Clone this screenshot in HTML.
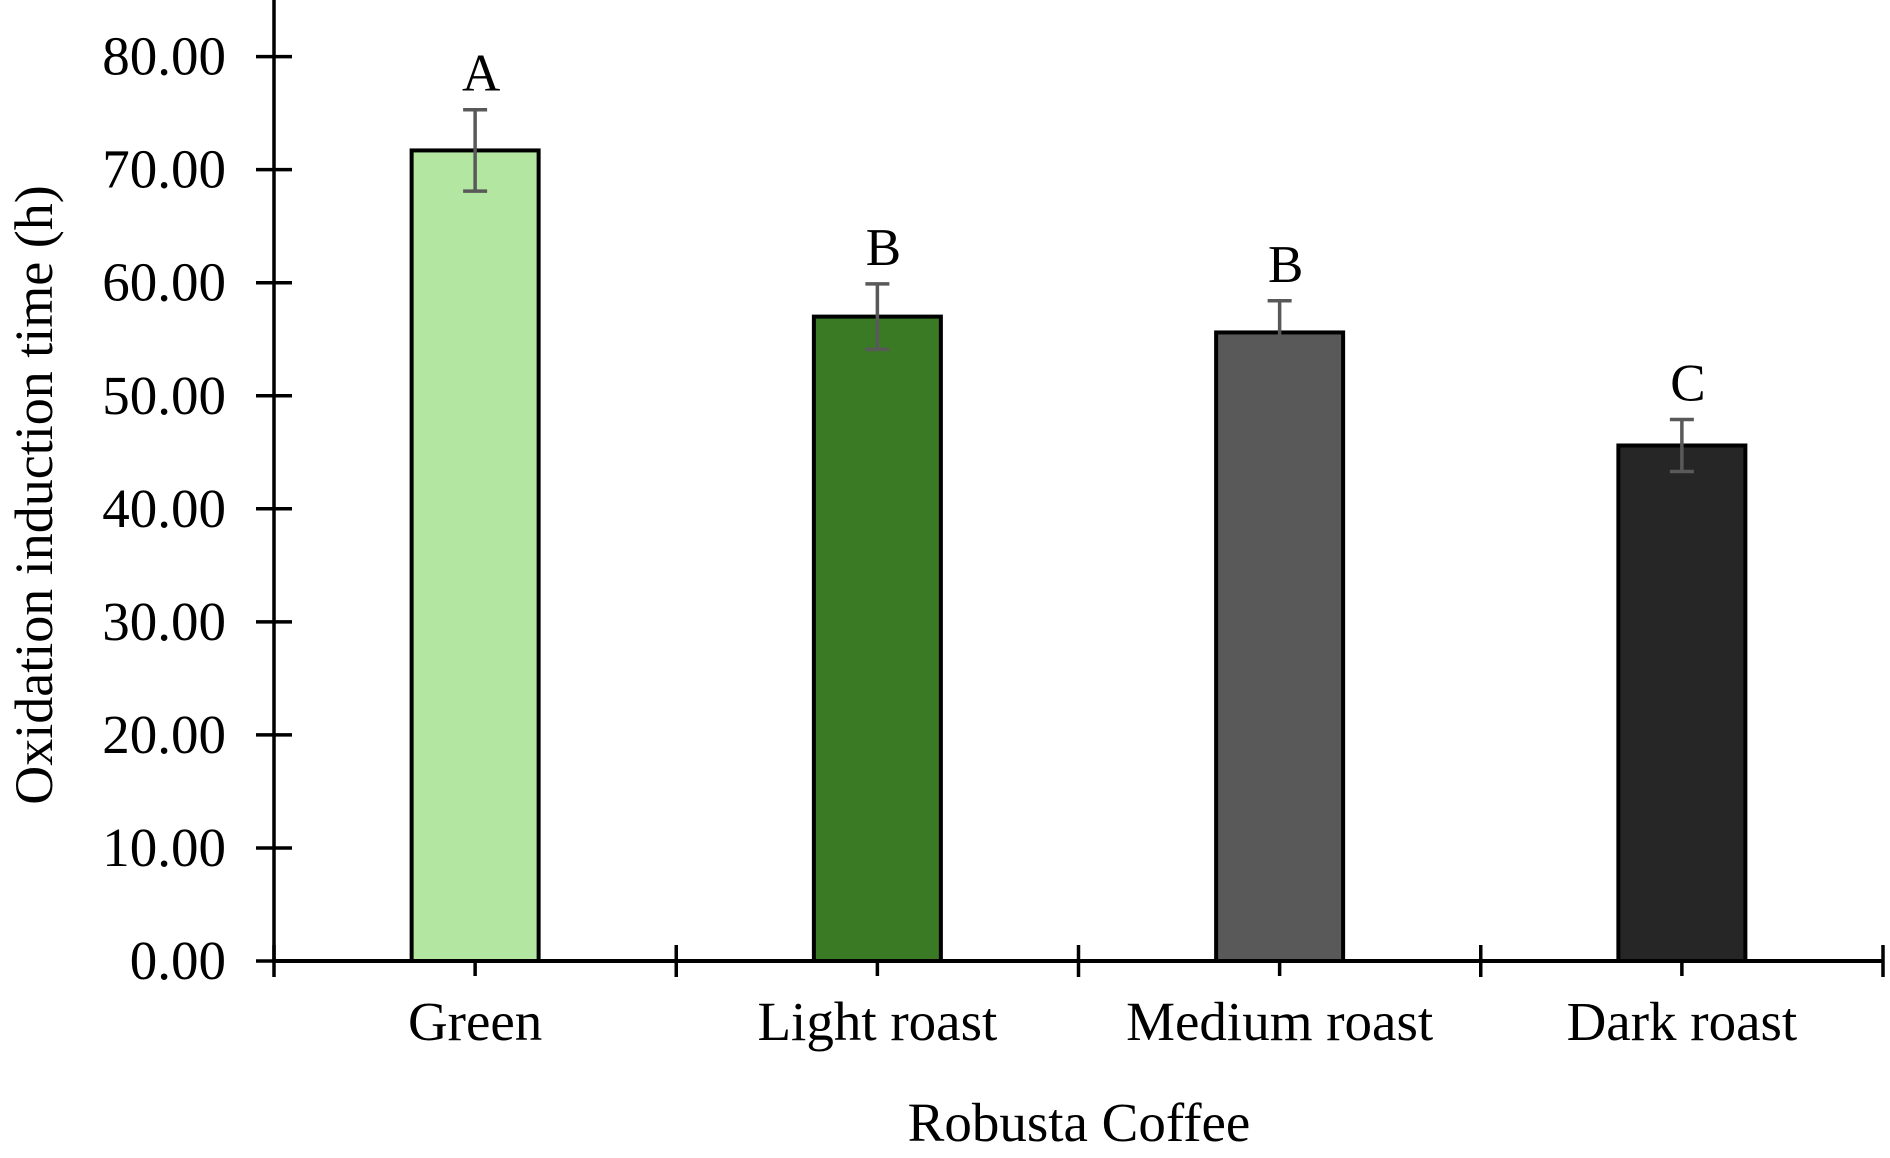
<!DOCTYPE html>
<html><head><meta charset="utf-8"><style>
html,body{margin:0;padding:0;background:#fff;}
svg{display:block;font-family:"Liberation Serif",serif;}
</style></head><body>
<svg id="chart" width="1890" height="1158" viewBox="0 0 1890 1158">
<g id="axes"></g>
<g id="bars"></g>
<text x="1079" y="1141" font-size="55" text-anchor="middle">Robusta Coffee</text>
<text transform="translate(52,495) rotate(-90)" font-size="54" text-anchor="middle">Oxidation induction time (h)</text>
</svg>
<script>
const categories = ["Green","Light roast","Medium roast","Dark roast"];
const values = [71.7, 57.0, 55.6, 45.6];
const errors = [3.6, 2.9, 2.8, 2.3];
const letters = ["A","B","B","C"];
const colors = ["#b3e6a1","#3b7a25","#595959","#262626"];
const yTicks = [0,10,20,30,40,50,60,70,80];

const NS="http://www.w3.org/2000/svg";
const x0=274, x1=1883, y0=961, pxPer10=113.05;
const catW=(x1-x0)/categories.length, barW=127;
function yScale(v){return y0 - v*pxPer10/10;}
function xCenter(i){return x0+catW*(i+0.5);}
function mk(tag,attrs,parent){const e=document.createElementNS(NS,tag);for(const k in attrs)e.setAttribute(k,attrs[k]);parent.appendChild(e);return e;}
const axes=document.getElementById('axes'), bars=document.getElementById('bars');

categories.forEach((c,i)=>{
  const cx=xCenter(i), top=yScale(values[i]);
  const r=mk('rect',{x:cx-barW/2,y:top,width:barW,height:y0-top,fill:colors[i],stroke:'#000','stroke-width':4},bars);
  
  
  const eg=mk('g',{stroke:'#595959','stroke-width':3.5},bars);
  
  
  const hi=yScale(values[i]+errors[i]), lo=yScale(values[i]-errors[i]);
  mk('line',{x1:cx,x2:cx,y1:hi,y2:lo},eg);
  mk('line',{x1:cx-12,x2:cx+12,y1:hi,y2:hi},eg);
  mk('line',{x1:cx-12,x2:cx+12,y1:lo,y2:lo},eg);
  const t=mk('text',{x:cx+6,y:hi-19,'font-size':53,'text-anchor':'middle'},bars);
  t.textContent=letters[i];
  
  
  const l=mk('text',{x:cx,y:1040,'font-size':55,'text-anchor':'middle'},axes);
  l.textContent=c;
  
  
  mk('line',{x1:cx,x2:cx,y1:y0,y2:y0+15,stroke:'#000','stroke-width':3.5},axes);
});
for(let i=0;i<=categories.length;i++){
  const x=x0+catW*i;
  mk('line',{x1:x,x2:x,y1:y0-16,y2:y0+16,stroke:'#000','stroke-width':3.5},axes);
}
yTicks.forEach(v=>{
  const y=yScale(v);
  mk('line',{x1:x0-18,x2:x0+18,y1:y,y2:y,stroke:'#000','stroke-width':3.5},axes);
  const t=mk('text',{x:226,y:y+18,'font-size':55,'text-anchor':'end'},axes);
  t.textContent=v.toFixed(2);
  
  
});
const ya=mk('line',{x1:x0,x2:x0,y1:0,y2:y0,stroke:'#000','stroke-width':3.5},axes);


const xa=mk('line',{x1:x0,x2:x1,y1:y0,y2:y0,stroke:'#000','stroke-width':4},axes);


</script>
</body></html>
